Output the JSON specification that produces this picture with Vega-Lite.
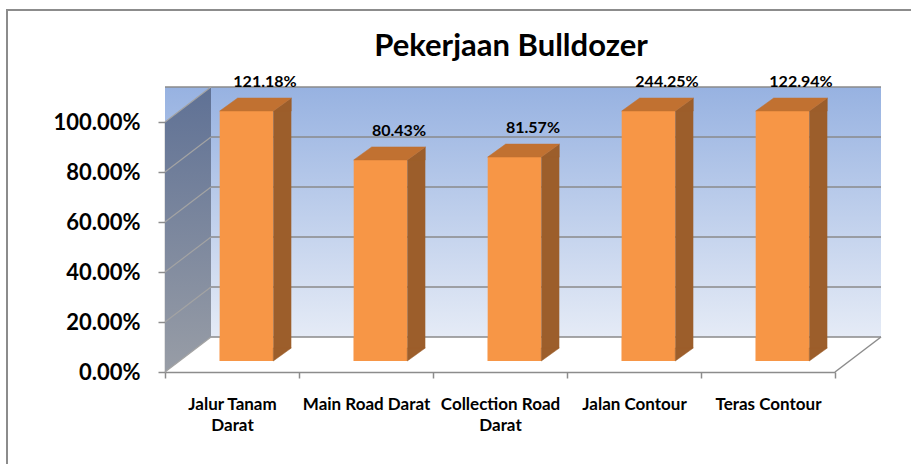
{
  "$schema": "https://vega.github.io/schema/vega-lite/v6.json",
  "width": 670,
  "height": 250,
  "autosize": "none",
  "padding": {"left": 165, "top": 122, "right": 76, "bottom": 92},
  "background": "white",
  "config": {"view": {"stroke": null}, "font": "Lato"},
  "title": {"text": "Pekerjaan Bulldozer", "font": "Lato", "fontSize": 31, "fontWeight": "bold", "color": "black", "anchor": "middle", "frame": "group", "dx": 11, "baseline": "alphabetic", "offset": -81},
  "datasets": {
    "kerja": [
      {"kategori": "Jalur Tanam Darat", "nilai": 1.2118},
      {"kategori": "Main Road Darat", "nilai": 0.8043},
      {"kategori": "Collection Road Darat", "nilai": 0.8157},
      {"kategori": "Jalan Contour", "nilai": 2.4425},
      {"kategori": "Teras Contour", "nilai": 1.2294}
    ],
    "grid": [{"t": 0}, {"t": 0.2}, {"t": 0.4}, {"t": 0.6}, {"t": 0.8}, {"t": 1}],
    "satu": [{"id": 1}]
  },
  "layer": [
    {
      "data": {"name": "kerja"},
      "mark": {"type": "bar", "fill": "#f79646", "width": {"band": 0.4}, "xOffset": 14.5, "yOffset": -11, "y2Offset": -11},
      "encoding": {
        "x": {
          "field": "kategori", "type": "nominal",
          "scale": {"type": "band", "domain": ["Jalur Tanam Darat", "Main Road Darat", "Collection Road Darat", "Jalan Contour", "Teras Contour"], "paddingInner": 0, "paddingOuter": 0},
          "axis": {"title": null, "tickBand": "extent", "tickSize": 6, "tickColor": "#8c8c8c", "tickWidth": 1.5, "domainColor": "#8c8c8c", "domainWidth": 1.5, "labelFont": "Lato", "labelFontWeight": "bold", "labelFontSize": 17, "labelColor": "black", "labelAngle": 0, "labelPadding": 18, "labelBaseline": "top", "labelLineHeight": 21, "labelLimit": 200,
            "labelExpr": "datum.value == 'Jalur Tanam Darat' ? ['Jalur Tanam', 'Darat'] : datum.value == 'Collection Road Darat' ? ['Collection Road', 'Darat'] : datum.value"}
        },
        "y": {
          "field": "nilai", "type": "quantitative",
          "scale": {"domain": [0, 1], "clamp": true, "nice": false},
          "axis": {"title": null, "values": [0, 0.2, 0.4, 0.6, 0.8, 1], "format": ".2%", "grid": false, "tickSize": 7, "tickColor": "#8c8c8c", "tickWidth": 1.5, "domainColor": "#8c8c8c", "domainWidth": 1.5, "labelFont": "Lato", "labelFontWeight": "bold", "labelFontSize": 22, "labelColor": "black", "labelPadding": 18}
        },
        "y2": {"datum": 0}
      }
    },
    {
      "data": {"name": "satu"},
      "mark": {"type": "point", "shape": "M-158,400 L-158,-112 L800,-112", "size": 4, "filled": false, "opacity": 1, "stroke": "#8c8c8c", "strokeWidth": 2},
      "encoding": {
        "x": {"datum": "Jalur Tanam Darat", "type": "nominal", "bandPosition": 0},
        "y": {"datum": 1, "type": "quantitative"}
      }
    },
    {
      "data": {"name": "satu"},
      "mark": {"type": "rect", "fill": {"gradient": "linear", "x1": 0, "y1": 0, "x2": 0, "y2": 1, "stops": [{"offset": 0, "color": "#97b2e1"}, {"offset": 1, "color": "#e5ebf6"}]}, "xOffset": 46, "x2Offset": 46, "yOffset": -35, "y2Offset": -35},
      "encoding": {
        "y": {"datum": 1, "type": "quantitative"},
        "y2": {"datum": 0}
      }
    },
    {
      "data": {"name": "grid"},
      "mark": {"type": "rule", "color": "#8a8a8a", "strokeWidth": 1.5, "xOffset": 46, "x2Offset": 46, "yOffset": -35},
      "encoding": {
        "y": {"field": "t", "type": "quantitative"}
      }
    },
    {
      "data": {"name": "satu"},
      "mark": {"type": "point", "shape": "M0,0 L46,-35 L46,-285 L0,-250 Z", "size": 4, "filled": true, "opacity": 1, "strokeWidth": 0, "fill": {"gradient": "linear", "x1": 0, "y1": 0, "x2": 0, "y2": 1, "stops": [{"offset": 0, "color": "#5f7195"}, {"offset": 1, "color": "#989da6"}]}},
      "encoding": {
        "x": {"datum": "Jalur Tanam Darat", "type": "nominal", "bandPosition": 0},
        "y": {"datum": 0, "type": "quantitative"}
      }
    },
    {
      "data": {"name": "grid"},
      "mark": {"type": "point", "shape": "M0,0 L46,-35", "size": 4, "filled": false, "opacity": 1, "stroke": "#a3a3a3", "strokeWidth": 1.2},
      "encoding": {
        "x": {"datum": "Jalur Tanam Darat", "type": "nominal", "bandPosition": 0},
        "y": {"field": "t", "type": "quantitative"}
      }
    },
    {
      "data": {"name": "satu"},
      "mark": {"type": "point", "shape": "M0,0 L46,-35", "size": 4, "filled": false, "opacity": 1, "stroke": "#8c8c8c", "strokeWidth": 1.5},
      "encoding": {
        "x": {"datum": "Teras Contour", "type": "nominal", "bandPosition": 1},
        "y": {"datum": 0, "type": "quantitative"}
      }
    },
    {
      "data": {"name": "kerja"},
      "mark": {"type": "bar", "fill": "#f79646", "width": {"band": 0.4}, "xOffset": 14.5, "yOffset": -11, "y2Offset": -11},
      "encoding": {
        "x": {"field": "kategori", "type": "nominal"},
        "y": {"field": "nilai", "type": "quantitative"},
        "y2": {"datum": 0}
      }
    },
    {
      "data": {"name": "kerja"},
      "mark": {"type": "bar", "fill": "#9c5e2b", "width": 18, "xOffset": 50.3, "yOffset": -11, "y2Offset": -24},
      "encoding": {
        "x": {"field": "kategori", "type": "nominal"},
        "y": {"field": "nilai", "type": "quantitative"},
        "y2": {"datum": 0}
      }
    },
    {
      "data": {"name": "kerja"},
      "mark": {"type": "point", "shape": "M41.3,0 L59.3,-13 L59.3,0 Z", "size": 4, "filled": true, "opacity": 1, "fill": "#9c5e2b", "stroke": "#9c5e2b", "strokeWidth": 0.5, "yOffset": -11},
      "encoding": {
        "x": {"field": "kategori", "type": "nominal"},
        "y": {"field": "nilai", "type": "quantitative"}
      }
    },
    {
      "data": {"name": "kerja"},
      "mark": {"type": "point", "shape": "M41.3,-13 L41.3,0 L59.3,-13 Z", "size": 4, "filled": true, "opacity": 1, "fill": "#9c5e2b", "stroke": "#9c5e2b", "strokeWidth": 0.5, "yOffset": -11},
      "encoding": {
        "x": {"field": "kategori", "type": "nominal"},
        "y": {"datum": 0, "type": "quantitative"}
      }
    },
    {
      "data": {"name": "kerja"},
      "mark": {"type": "point", "shape": "M-12.3,0 L41.3,0 L59.3,-13 L5.7,-13 Z", "size": 4, "filled": true, "opacity": 1, "fill": "#c17131", "stroke": "#c17131", "strokeWidth": 0.5, "yOffset": -11},
      "encoding": {
        "x": {"field": "kategori", "type": "nominal"},
        "y": {"field": "nilai", "type": "quantitative"}
      }
    },
    {
      "data": {"name": "kerja"},
      "mark": {"type": "text", "font": "Lato", "fontWeight": "bold", "fontSize": 16, "color": "black", "baseline": "middle", "align": "center", "xOffset": 33, "yOffset": -40},
      "encoding": {
        "x": {"field": "kategori", "type": "nominal"},
        "y": {"field": "nilai", "type": "quantitative"},
        "text": {"field": "nilai", "type": "quantitative", "format": ".2%"}
      }
    }
  ]
}
